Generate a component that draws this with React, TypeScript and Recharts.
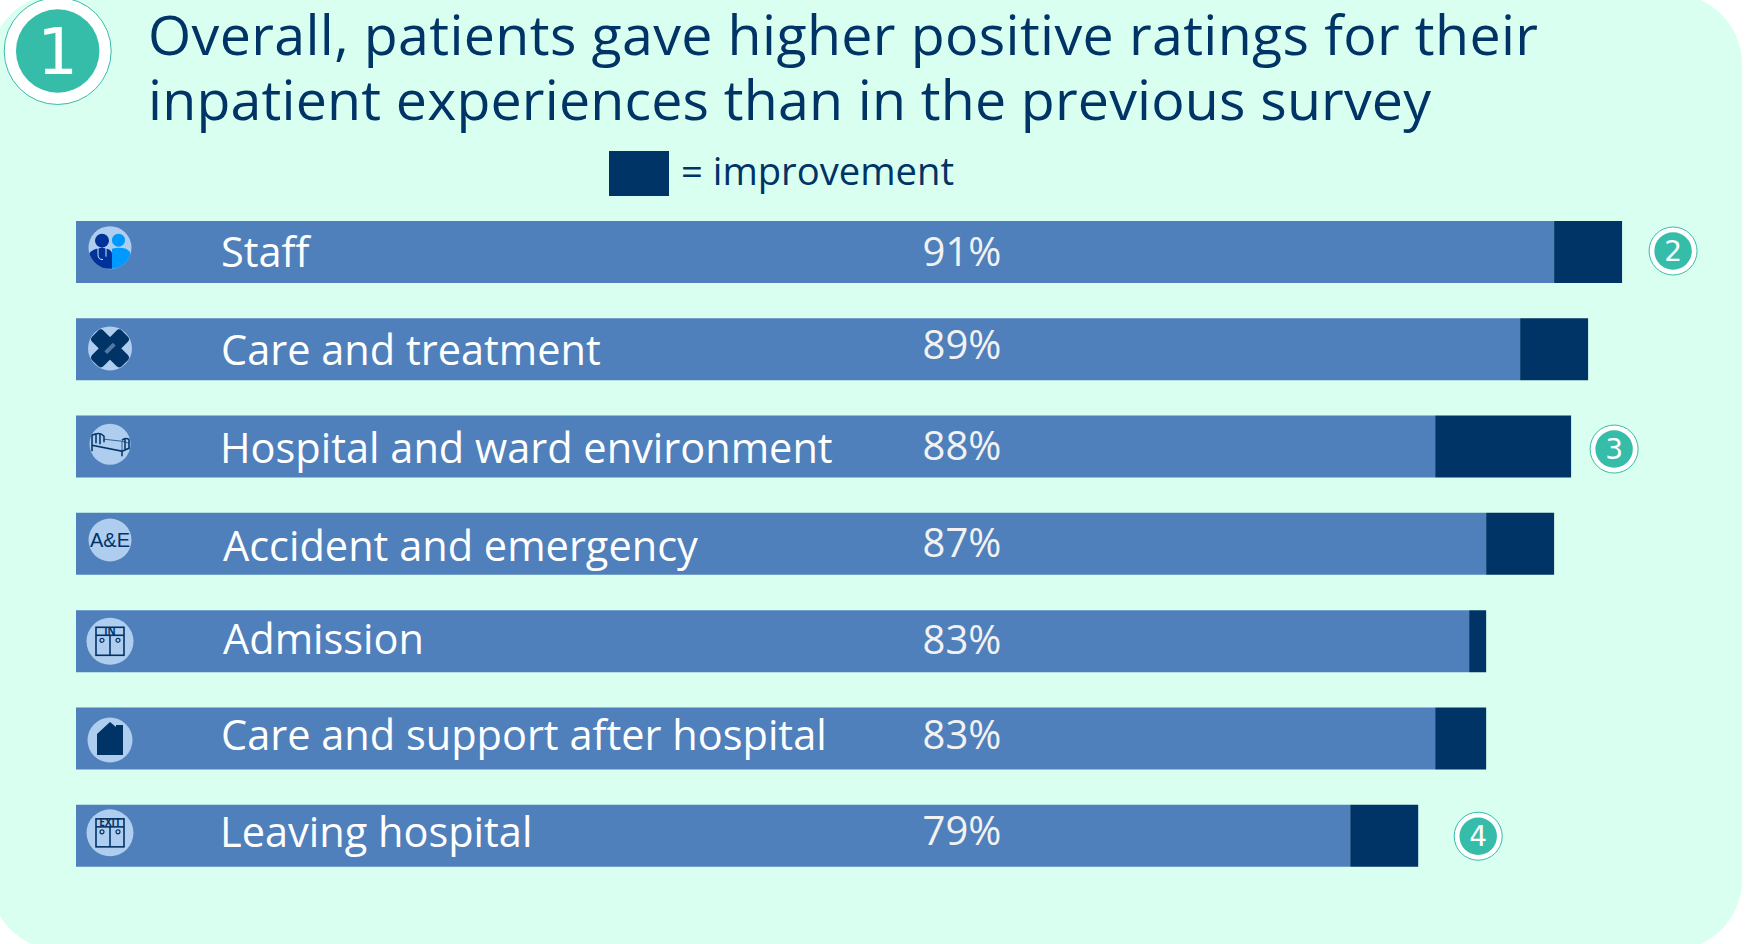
import { Bar, BarChart, LabelList, XAxis, YAxis } from "recharts";

const categories = [
  "Staff",
  "Care and treatment",
  "Hospital and ward environment",
  "Accident and emergency",
  "Admission",
  "Care and support after hospital",
  "Leaving hospital",
];
const previousScores = [87, 85, 80, 83, 82, 80, 75];
const improvement = [4, 4, 8, 4, 1, 3, 4];
const percentLabels = ["91%", "89%", "88%", "87%", "83%", "83%", "79%"];
const badges = [2, null, 3, null, null, null, 4];
const titleLines = [
  "Overall, patients gave higher positive ratings for their",
  "inpatient experiences than in the previous survey",
];

const data = categories.map((name, i) => ({
  name,
  previous: previousScores[i],
  improvement: improvement[i],
  label: percentLabels[i],
  badge: badges[i],
}));

const NAVY = "#003366";
const BAR = "#4f80bb";
const TEAL = "#35bda9";
const MINT = "#d9fff0";
const ICON_BG = "#aecdef";
const FONT = "'Open Sans', sans-serif";
const BADGE_FONT = "'DejaVu Sans', sans-serif";

// small nudges so the text sits where it does in the original
const nameNudge = [
  [0, 0.5], [0, 1], [-1, 2], [2, 2], [2, -2], [0, -3], [-1, -3],
];
const percentNudge = [0, -4, -0.5, -1, -1, -3.5, -4.5];
const iconNudge = [-4.5, -1, -2.5, -4, 0, 1.5, -3];
const iconRadius = [21.5, 22, 20.5, 21.5, 23.5, 22.5, 23.5];
const badgeOffset = [
  [51, -1], [0, 0], [43, 2.5], [0, 0], [0, 0], [0, 0], [60, 0.5],
];

function DoorIcon({ word }: { word: string }) {
  return (
    <g stroke={NAVY} strokeWidth={1.6} fill="none">
      <rect x={-14} y={-14} width={28} height={28} />
      <line x1={-14} y1={-6} x2={14} y2={-6} />
      <line x1={0} y1={-6} x2={0} y2={14} />
      <circle cx={-8} cy={-1} r={2} strokeWidth={1.2} />
      <circle cx={8} cy={-1} r={2} strokeWidth={1.2} />
      <text
        x={0}
        y={-6.5}
        textAnchor="middle"
        fontSize={10}
        fontWeight={700}
        fontFamily={FONT}
        fill={NAVY}
        stroke="none"
      >
        {word}
      </text>
    </g>
  );
}

function RowIcon({ index }: { index: number }) {
  if (index === 0) {
    return (
      <g>
        <clipPath id="staff-clip">
          <circle r={21.5} />
        </clipPath>
        <g clipPath="url(#staff-clip)">
          <circle cx={-8} cy={-7} r={7} fill="#003399" />
          <path d="M-21 21 V6 Q-18 1 -8 0 Q2 1 2 6 V21 Z" fill="#003399" />
          <circle cx={8.5} cy={-7.5} r={6.5} fill="#0099ff" />
          <path d="M2 21 V1 Q9 -1 16 1 Q20 3 21 7 V21 Z" fill="#0099ff" />
        </g>
        <path
          d="M-12 0 V7 Q-12 12 -7 12 M-4 0 V9"
          stroke="#cfe4f7"
          fill="none"
          strokeWidth={1}
        />
      </g>
    );
  }
  if (index === 1) {
    return (
      <g fill={NAVY}>
        <rect x={-21} y={-8} width={42} height={16} rx={4} transform="rotate(45)" />
        <rect x={-21} y={-8} width={42} height={16} rx={4} transform="rotate(-45)" />
        <rect x={-6} y={-2} width={12} height={4} fill="#4f7aa8" transform="rotate(-45)" />
      </g>
    );
  }
  if (index === 2) {
    return (
      <g stroke={NAVY} strokeWidth={1.5} fill="none">
        <path d="M-18 -9 V7 M-18 1 L12 7 V12 M12 7 L19 4 M19 -5 V5" />
        <path d="M-18 -9 Q-10 -13 -6 -8 V-2 M-14 -10 V-1 M-10 -10 V0" />
        <path d="M-6 -5 L12 -3 L19 -1 M12 -3 V7" strokeWidth={0.7} />
        <path d="M12 -4 Q15 -7 19 -5 M15 -6 V5" />
      </g>
    );
  }
  if (index === 3) {
    return (
      <text
        textAnchor="middle"
        y={7}
        fontSize={20}
        fontFamily="'Liberation Sans', sans-serif"
        fill={NAVY}
      >
        A&amp;E
      </text>
    );
  }
  if (index === 4) return <DoorIcon word="IN" />;
  if (index === 5) {
    return <path d="M-13 15 V-6 L0 -18 L6 -13 V-15 H13 V-6 V15 Z" fill={NAVY} />;
  }
  return <DoorIcon word="EXIT" />;
}

function RowTick({ y, payload, index }: any) {
  const i = payload?.index ?? index ?? 0;
  const [nx, ny] = nameNudge[i];
  return (
    <g>
      <g transform={`translate(110,${y + iconNudge[i]})`}>
        <circle r={iconRadius[i]} fill={ICON_BG} />
        <RowIcon index={i} />
      </g>
      <text
        x={221 + nx}
        y={y + 14.5 + ny}
        fontSize={41.5}
        fontFamily={FONT}
        fill="#ffffff"
      >
        {payload.value}
      </text>
    </g>
  );
}

function PercentLabel({ y, height, index, value }: any) {
  return (
    <text
      x={962}
      y={y + height / 2 + 14 + percentNudge[index]}
      textAnchor="middle"
      fontSize={40}
      fontFamily={FONT}
      fill="#f2f2f2"
    >
      {value}
    </text>
  );
}

function Badge({ cx, cy, r, value, fontSize }: any) {
  return (
    <g>
      <circle cx={cx} cy={cy} r={r} fill="#ffffff" stroke={TEAL} strokeWidth={1} />
      <circle cx={cx} cy={cy} r={r * 0.78} fill={TEAL} />
      <text
        x={cx}
        y={cy + fontSize * 0.36}
        textAnchor="middle"
        fontSize={fontSize}
        fontFamily={BADGE_FONT}
        fill="#ffffff"
      >
        {value}
      </text>
    </g>
  );
}

function BadgeLabel({ x, y, width, height, value, index }: any) {
  if (!value) return null;
  const [dx, dy] = badgeOffset[index];
  return (
    <Badge
      cx={x + width + dx}
      cy={y + height / 2 + dy}
      r={24}
      value={value}
      fontSize={28}
    />
  );
}

export default function App() {
  return (
    <div
      style={{
        position: "absolute",
        left: 0,
        top: 0,
        width: 1748,
        height: 944,
        overflow: "hidden",
        background: "#ffffff",
      }}
    >
      <div
        style={{
          position: "absolute",
          left: -10,
          top: -6,
          width: 1752,
          height: 956,
          background: MINT,
          borderRadius: 70,
        }}
      />
      <BarChart
        width={1748}
        height={944}
        data={data}
        layout="vertical"
        barCategoryGap={17.5}
        margin={{ top: 203.5, right: 7, bottom: 59.5, left: 0 }}
        style={{ position: "absolute", left: 0, top: 0 }}
      >
        <XAxis type="number" domain={[0, 98]} hide />
        <YAxis
          type="category"
          dataKey="name"
          width={76}
          axisLine={false}
          tickLine={false}
          interval={0}
          tick={<RowTick />}
        />
        <Bar
          dataKey="previous"
          stackId="score"
          fill={BAR}
          isAnimationActive={false}
        >
          <LabelList dataKey="label" content={<PercentLabel />} />
        </Bar>
        <Bar
          dataKey="improvement"
          stackId="score"
          fill={NAVY}
          isAnimationActive={false}
        >
          <LabelList dataKey="badge" content={<BadgeLabel />} />
        </Bar>
        <Badge cx={57.7} cy={51} r={53.5} value={1} fontSize={64} />
        <text x={148} y={55} fontSize={55.5} textLength={1390} fontFamily={FONT} fill={NAVY}>
          {titleLines[0]}
        </text>
        <text x={148} y={120} fontSize={55.5} textLength={1283} fontFamily={FONT} fill={NAVY}>
          {titleLines[1]}
        </text>
        <rect x={609} y={151} width={60} height={45} fill={NAVY} />
        <text x={681} y={185} fontSize={38.2} fontFamily={FONT} fill={NAVY}>
          = improvement
        </text>
      </BarChart>
    </div>
  );
}
